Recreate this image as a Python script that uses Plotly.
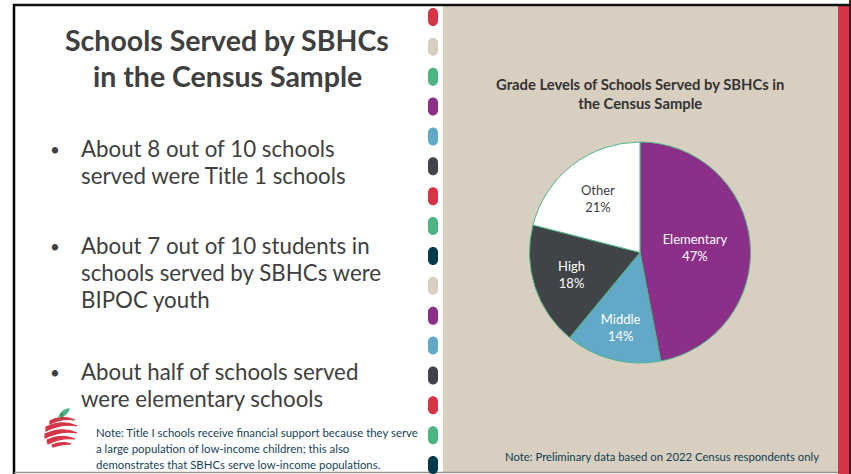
import plotly.graph_objects as go

# pie data
grades = ["Elementary", "Middle", "High", "Other"]
shares = [47, 14, 18, 21]
slice_colors = ["#8B2F89", "#62A9C8", "#404347", "#FFFFFF"]
label_colors = ["white", "white", "white", "#404040"]

# slide text
slide_title = ["Schools Served by SBHCs", "in the Census Sample"]
bullets = [
    ["About 8 out of 10 schools", "served were Title 1 schools"],
    ["About 7 out of 10 students in", "schools served by SBHCs were", "BIPOC youth"],
    ["About half of schools served", "were elementary schools"],
]
bullet_y = [148, 245, 371]
left_note = ["Note: Title I schools receive financial support because they serve",
             "a large population of low-income children; this also",
             "demonstrates that SBHCs serve low-income populations."]
chart_title = "Grade Levels of Schools Served by SBHCs in<br>the Census Sample"
right_note = "Note: Preliminary data based on 2022 Census respondents only"

# the little pills in the middle strip
pill_colors = ["#D63447", "#D9CFC1", "#4CB584", "#8B2F89", "#62A9C8", "#404347",
               "#D63447", "#4CB584", "#003A4D", "#D9CFC1", "#8B2F89", "#62A9C8",
               "#404347", "#D63447", "#4CB584", "#003A4D"]

W, H = 851, 474
BEIGE = "#D9CFC1"
GREY_TXT = "#404040"
NAVY = "#17445A"

fig = go.Figure()

fig.add_trace(go.Pie(
    labels=grades, values=shares, sort=False, direction="clockwise", rotation=0,
    marker=dict(colors=slice_colors, line=dict(color="#4CB584", width=1)),
    texttemplate="%{label}<br>%{percent:.0%}",
    textposition="inside", insidetextorientation="horizontal",
    textfont=dict(family="Lato", size=13, color=label_colors),
    domain=dict(x=[528 / W, 752 / W], y=[1 - 363 / H, 1 - 142 / H]),
    hoverinfo="skip", showlegend=False,
))

# invisible axes so shapes/annotations can be placed in pixels
fig.add_trace(go.Scatter(x=[0, W], y=[0, H], mode="markers", marker=dict(opacity=0),
                         hoverinfo="skip", showlegend=False))

shapes = []
shapes.append(dict(type="rect", x0=443, x1=838, y0=5, y1=472, fillcolor=BEIGE,
                   line=dict(width=0), layer="below"))
shapes.append(dict(type="rect", x0=838, x1=849, y0=5, y1=474, fillcolor="#D63447",
                   line=dict(width=0), layer="below"))
shapes.append(dict(type="rect", x0=849, x1=851, y0=0, y1=474, fillcolor="#4A1A20",
                   line=dict(width=0), layer="below"))
shapes.append(dict(type="line", x0=13, x1=851, y0=5, y1=5, line=dict(color="#111111", width=2.5)))
shapes.append(dict(type="line", x0=14, x1=14, y0=4, y1=474, line=dict(color="#000000", width=2.5)))
shapes.append(dict(type="line", x0=14, x1=838, y0=472.5, y1=472.5, line=dict(color="#9A958C", width=1.5)))


def pill(cx, cy, w=10, h=18):
    r = w / 2
    k = 0.55 * r
    top, bot = cy - h / 2 + r, cy + h / 2 - r
    return (f"M {cx - r},{top} C {cx - r},{top - k} {cx - k},{top - r} {cx},{top - r} "
            f"C {cx + k},{top - r} {cx + r},{top - k} {cx + r},{top} L {cx + r},{bot} "
            f"C {cx + r},{bot + k} {cx + k},{bot + r} {cx},{bot + r} "
            f"C {cx - k},{bot + r} {cx - r},{bot + k} {cx - r},{bot} Z")


for i, c in enumerate(pill_colors):
    shapes.append(dict(type="path", path=pill(433, 17 + 29.87 * i), fillcolor=c,
                       line=dict(width=0)))

# apple logo: red swirl stripes + leaf
red = "#D63447"
stripes = [
    "M 50,421 Q 62,414 75,420 Q 62,418 50,424 Z",
    "M 46,427 Q 62,419 77,426 Q 62,423 46,431 Z",
    "M 45,434 Q 62,426 77,433 Q 62,430 45,438 Z",
    "M 47,440 Q 62,433 75,439 Q 62,437 48,444 Z",
    "M 52,445 Q 62,441 71,444 Q 62,444 53,447 Z",
]
for p in stripes:
    shapes.append(dict(type="path", path=p, fillcolor=red, line=dict(color=red, width=1.2)))
shapes.append(dict(type="path", path="M 58,418 Q 60,409 70,408 Q 68,417 58,418 Z",
                   fillcolor="#4CB584", line=dict(width=0)))
shapes.append(dict(type="line", x0=62, x1=62, y0=413, y1=419, line=dict(color="#6B4A2B", width=1)))

annotations = []
for j, line in enumerate(slide_title):
    annotations.append(dict(x=227, y=40 + 36 * j, text=f"<b>{line}</b>", showarrow=False,
                            xanchor="center", yanchor="middle",
                            font=dict(family="Lato", size=28.5, color=GREY_TXT)))
for y0, lines in zip(bullet_y, bullets):
    annotations.append(dict(x=54.5, y=y0 + 1, text="•", showarrow=False, xanchor="center",
                            yanchor="middle", font=dict(family="Lato", size=17, color=GREY_TXT)))
    for k, line in enumerate(lines):
        annotations.append(dict(x=79, y=y0 + 27 * k, text=line, showarrow=False,
                                xanchor="left", yanchor="middle",
                                font=dict(family="Lato", size=22.3, color=GREY_TXT)))
for k, line in enumerate(left_note):
    annotations.append(dict(x=94, y=432 + 16 * k, text=line, showarrow=False,
                            xanchor="left", yanchor="middle",
                            font=dict(family="Lato", size=11.4, color=NAVY)))
annotations.append(dict(x=640, y=93, text=f"<b>{chart_title}</b>", showarrow=False,
                        xanchor="center", yanchor="middle",
                        font=dict(family="Lato", size=14.8, color="#333333")))
annotations.append(dict(x=662, y=456, text=right_note, showarrow=False,
                        xanchor="center", yanchor="middle",
                        font=dict(family="Lato", size=11.3, color="#0E3D52")))

fig.update_layout(
    width=W, height=H, margin=dict(l=0, r=0, t=0, b=0),
    paper_bgcolor="white", plot_bgcolor="rgba(0,0,0,0)",
    xaxis=dict(range=[0, W], visible=False, fixedrange=True),
    yaxis=dict(range=[H, 0], visible=False, fixedrange=True),
    shapes=shapes, annotations=annotations, showlegend=False,
)

# page body has an 8px default margin; drop it so the figure sits at 0,0
fig.write_html("out.html", config={"displayModeBar": False},
               post_script="document.body.style.margin='0';")
